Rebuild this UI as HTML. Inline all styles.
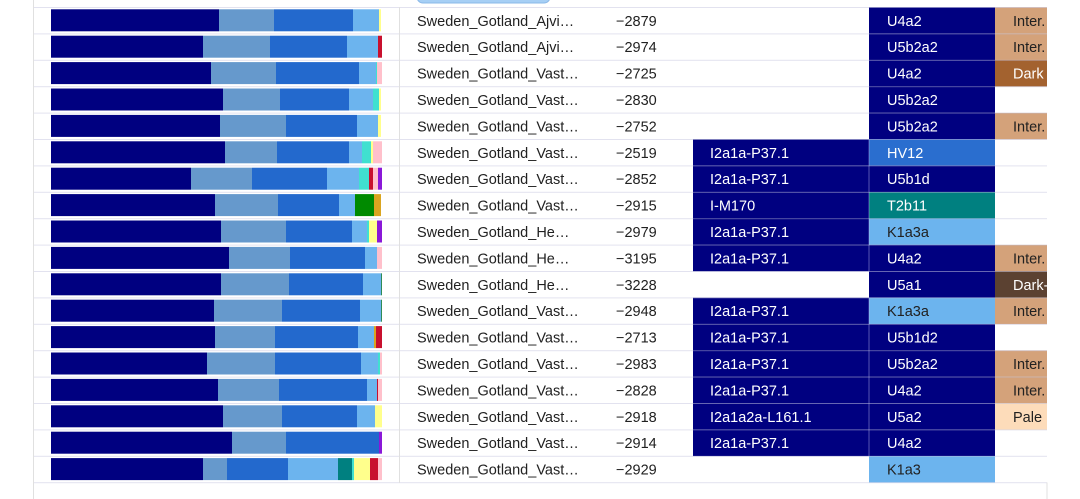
<!DOCTYPE html>
<html><head><meta charset="utf-8"><style>
html,body{margin:0;padding:0;background:#fff;width:1080px;height:499px;overflow:hidden}
svg{display:block}
text{font-family:"Liberation Sans",Arial,sans-serif;font-size:14.5px;fill:#212121}
.w{fill:#fff}
.n{fill:#000080}.s{fill:#6699cc}.m{fill:#2369cd}.l{fill:#6cb4ee}.y{fill:#ffff8c}.r{fill:#c8102e}
.pk{fill:#ffc0cb}.tq{fill:#40e0d0}.pu{fill:#8a18d8}.g{fill:#008a00}.o{fill:#daa520}.tl{fill:#008080}.sg{fill:#2e8b57}
.in{fill:#d4a27a}.dk{fill:#a3622f}.dd{fill:#5b4131}.pa{fill:#fddcba}.hv{fill:#2a6ecf}
</style></head><body>
<svg width="1080" height="499" viewBox="0 0 1080 499" xmlns="http://www.w3.org/2000/svg">
<defs><clipPath id="c"><rect x="0" y="0" width="1047" height="499"/></clipPath></defs>
<rect x="417" y="-10" width="133" height="13" rx="6" fill="#a6cff5" stroke="#8ab8e8"/>
<g clip-path="url(#c)">
<!-- R1 -->
<g transform="translate(0,7.3)">
<rect class="n" x="51" y="2" width="168" height="22"/><rect class="s" x="219" y="2" width="55" height="22"/><rect class="m" x="274" y="2" width="79" height="22"/><rect class="l" x="353" y="2" width="26" height="22"/><rect class="y" x="379" y="2" width="2" height="22"/>
<rect class="n" x="869" y="0" width="126" height="26.4"/><rect class="in" x="995" y="0" width="60" height="26.4"/>
<text x="417" y="18.5">Sweden_Gotland_Ajvi…</text><text x="616" y="18.5">−2879</text><text class="w" x="887" y="18.5">U4a2</text><text x="1013" y="18.5">Inter.</text>
</g>
<!-- R2 -->
<g transform="translate(0,33.7)">
<rect class="n" x="51" y="2" width="152" height="22"/><rect class="s" x="203" y="2" width="67" height="22"/><rect class="m" x="270" y="2" width="77" height="22"/><rect class="l" x="347" y="2" width="31" height="22"/><rect class="r" x="378" y="2" width="4" height="22"/>
<rect class="n" x="869" y="0" width="126" height="26.4"/><rect class="in" x="995" y="0" width="60" height="26.4"/>
<text x="417" y="18.5">Sweden_Gotland_Ajvi…</text><text x="616" y="18.5">−2974</text><text class="w" x="887" y="18.5">U5b2a2</text><text x="1013" y="18.5">Inter.</text>
</g>
<!-- R3 -->
<g transform="translate(0,60.1)">
<rect class="n" x="51" y="2" width="160" height="22"/><rect class="s" x="211" y="2" width="65" height="22"/><rect class="m" x="276" y="2" width="83" height="22"/><rect class="l" x="359" y="2" width="17" height="22"/><rect class="tq" x="376" y="2" width="1" height="22"/><rect class="pk" x="377" y="2" width="5" height="22"/>
<rect class="n" x="869" y="0" width="126" height="26.4"/><rect class="dk" x="995" y="0" width="60" height="26.4"/>
<text x="417" y="18.5">Sweden_Gotland_Vast…</text><text x="616" y="18.5">−2725</text><text class="w" x="887" y="18.5">U4a2</text><text class="w" x="1013" y="18.5">Dark</text>
</g>
<!-- R4 -->
<g transform="translate(0,86.5)">
<rect class="n" x="51" y="2" width="172" height="22"/><rect class="s" x="223" y="2" width="57" height="22"/><rect class="m" x="280" y="2" width="69" height="22"/><rect class="l" x="349" y="2" width="24" height="22"/><rect class="tq" x="373" y="2" width="6" height="22"/><rect class="y" x="379" y="2" width="2" height="22"/>
<rect class="n" x="869" y="0" width="126" height="26.4"/>
<text x="417" y="18.5">Sweden_Gotland_Vast…</text><text x="616" y="18.5">−2830</text><text class="w" x="887" y="18.5">U5b2a2</text>
</g>
<!-- R5 -->
<g transform="translate(0,112.9)">
<rect class="n" x="51" y="2" width="169" height="22"/><rect class="s" x="220" y="2" width="66" height="22"/><rect class="m" x="286" y="2" width="71" height="22"/><rect class="l" x="357" y="2" width="21" height="22"/><rect class="y" x="378" y="2" width="3" height="22"/>
<rect class="n" x="869" y="0" width="126" height="26.4"/><rect class="in" x="995" y="0" width="60" height="26.4"/>
<text x="417" y="18.5">Sweden_Gotland_Vast…</text><text x="616" y="18.5">−2752</text><text class="w" x="887" y="18.5">U5b2a2</text><text x="1013" y="18.5">Inter.</text>
</g>
<!-- R6 -->
<g transform="translate(0,139.3)">
<rect class="n" x="51" y="2" width="174" height="22"/><rect class="s" x="225" y="2" width="52" height="22"/><rect class="m" x="277" y="2" width="72" height="22"/><rect class="l" x="349" y="2" width="13" height="22"/><rect class="tq" x="362" y="2" width="9" height="22"/><rect class="y" x="371" y="2" width="2" height="22"/><rect class="pk" x="373" y="2" width="9" height="22"/>
<rect class="n" x="693" y="0" width="176" height="26.4"/><rect class="hv" x="869" y="0" width="126" height="26.4"/>
<text x="417" y="18.5">Sweden_Gotland_Vast…</text><text x="616" y="18.5">−2519</text><text class="w" x="710" y="18.5">I2a1a-P37.1</text><text class="w" x="887" y="18.5">HV12</text>
</g>
<!-- R7 -->
<g transform="translate(0,165.7)">
<rect class="n" x="51" y="2" width="140" height="22"/><rect class="s" x="191" y="2" width="61" height="22"/><rect class="m" x="252" y="2" width="75" height="22"/><rect class="l" x="327" y="2" width="32" height="22"/><rect class="tq" x="359" y="2" width="10" height="22"/><rect class="r" x="369" y="2" width="4" height="22"/><rect class="pk" x="373" y="2" width="5" height="22"/><rect class="pu" x="378" y="2" width="4" height="22"/>
<rect class="n" x="693" y="0" width="176" height="26.4"/><rect class="n" x="869" y="0" width="126" height="26.4"/>
<text x="417" y="18.5">Sweden_Gotland_Vast…</text><text x="616" y="18.5">−2852</text><text class="w" x="710" y="18.5">I2a1a-P37.1</text><text class="w" x="887" y="18.5">U5b1d</text>
</g>
<!-- R8 -->
<g transform="translate(0,192.1)">
<rect class="n" x="51" y="2" width="164" height="22"/><rect class="s" x="215" y="2" width="63" height="22"/><rect class="m" x="278" y="2" width="61" height="22"/><rect class="l" x="339" y="2" width="16" height="22"/><rect class="g" x="355" y="2" width="19" height="22"/><rect class="o" x="374" y="2" width="7" height="22"/>
<rect class="n" x="693" y="0" width="176" height="26.4"/><rect class="tl" x="869" y="0" width="126" height="26.4"/>
<text x="417" y="18.5">Sweden_Gotland_Vast…</text><text x="616" y="18.5">−2915</text><text class="w" x="710" y="18.5">I-M170</text><text class="w" x="887" y="18.5">T2b11</text>
</g>
<!-- R9 -->
<g transform="translate(0,218.5)">
<rect class="n" x="51" y="2" width="170" height="22"/><rect class="s" x="221" y="2" width="65" height="22"/><rect class="m" x="286" y="2" width="66" height="22"/><rect class="l" x="352" y="2" width="15" height="22"/><rect class="tq" x="367" y="2" width="2" height="22"/><rect class="y" x="369" y="2" width="8" height="22"/><rect class="pu" x="377" y="2" width="5" height="22"/>
<rect class="n" x="693" y="0" width="176" height="26.4"/><rect class="l" x="869" y="0" width="126" height="26.4"/>
<text x="417" y="18.5">Sweden_Gotland_He…</text><text x="616" y="18.5">−2979</text><text class="w" x="710" y="18.5">I2a1a-P37.1</text><text x="887" y="18.5">K1a3a</text>
</g>
<!-- R10 -->
<g transform="translate(0,244.9)">
<rect class="n" x="51" y="2" width="178" height="22"/><rect class="s" x="229" y="2" width="61" height="22"/><rect class="m" x="290" y="2" width="75" height="22"/><rect class="l" x="365" y="2" width="12" height="22"/><rect class="pk" x="377" y="2" width="5" height="22"/>
<rect class="n" x="693" y="0" width="176" height="26.4"/><rect class="n" x="869" y="0" width="126" height="26.4"/><rect class="in" x="995" y="0" width="60" height="26.4"/>
<text x="417" y="18.5">Sweden_Gotland_He…</text><text x="616" y="18.5">−3195</text><text class="w" x="710" y="18.5">I2a1a-P37.1</text><text class="w" x="887" y="18.5">U4a2</text><text x="1013" y="18.5">Inter.</text>
</g>
<!-- R11 -->
<g transform="translate(0,271.3)">
<rect class="n" x="51" y="2" width="170" height="22"/><rect class="s" x="221" y="2" width="68" height="22"/><rect class="m" x="289" y="2" width="74" height="22"/><rect class="l" x="363" y="2" width="18" height="22"/><rect class="sg" x="381" y="2" width="1" height="22"/>
<rect class="n" x="869" y="0" width="126" height="26.4"/><rect class="dd" x="995" y="0" width="60" height="26.4"/>
<text x="417" y="18.5">Sweden_Gotland_He…</text><text x="616" y="18.5">−3228</text><text class="w" x="887" y="18.5">U5a1</text><text class="w" x="1013" y="18.5">Dark-</text>
</g>
<!-- R12 -->
<g transform="translate(0,297.7)">
<rect class="n" x="51" y="2" width="163" height="22"/><rect class="s" x="214" y="2" width="68" height="22"/><rect class="m" x="282" y="2" width="78" height="22"/><rect class="l" x="360" y="2" width="21" height="22"/><rect class="sg" x="381" y="2" width="1" height="22"/>
<rect class="n" x="693" y="0" width="176" height="26.4"/><rect class="l" x="869" y="0" width="126" height="26.4"/><rect class="in" x="995" y="0" width="60" height="26.4"/>
<text x="417" y="18.5">Sweden_Gotland_Vast…</text><text x="616" y="18.5">−2948</text><text class="w" x="710" y="18.5">I2a1a-P37.1</text><text x="887" y="18.5">K1a3a</text><text x="1013" y="18.5">Inter.</text>
</g>
<!-- R13 -->
<g transform="translate(0,324.1)">
<rect class="n" x="51" y="2" width="164" height="22"/><rect class="s" x="215" y="2" width="60" height="22"/><rect class="m" x="275" y="2" width="83" height="22"/><rect class="l" x="358" y="2" width="16" height="22"/><rect class="o" x="374" y="2" width="2" height="22"/><rect class="r" x="376" y="2" width="6" height="22"/>
<rect class="n" x="693" y="0" width="176" height="26.4"/><rect class="n" x="869" y="0" width="126" height="26.4"/>
<text x="417" y="18.5">Sweden_Gotland_Vast…</text><text x="616" y="18.5">−2713</text><text class="w" x="710" y="18.5">I2a1a-P37.1</text><text class="w" x="887" y="18.5">U5b1d2</text>
</g>
<!-- R14 -->
<g transform="translate(0,350.5)">
<rect class="n" x="51" y="2" width="156" height="22"/><rect class="s" x="207" y="2" width="68" height="22"/><rect class="m" x="275" y="2" width="86" height="22"/><rect class="l" x="361" y="2" width="17" height="22"/><rect class="tq" x="378" y="2" width="2" height="22"/><rect class="pk" x="380" y="2" width="2" height="22"/>
<rect class="n" x="693" y="0" width="176" height="26.4"/><rect class="n" x="869" y="0" width="126" height="26.4"/><rect class="in" x="995" y="0" width="60" height="26.4"/>
<text x="417" y="18.5">Sweden_Gotland_Vast…</text><text x="616" y="18.5">−2983</text><text class="w" x="710" y="18.5">I2a1a-P37.1</text><text class="w" x="887" y="18.5">U5b2a2</text><text x="1013" y="18.5">Inter.</text>
</g>
<!-- R15 -->
<g transform="translate(0,376.9)">
<rect class="n" x="51" y="2" width="167" height="22"/><rect class="s" x="218" y="2" width="61" height="22"/><rect class="m" x="279" y="2" width="88" height="22"/><rect class="l" x="367" y="2" width="10" height="22"/><rect class="r" x="377" y="2" width="1" height="22"/><rect class="pk" x="378" y="2" width="4" height="22"/>
<rect class="n" x="693" y="0" width="176" height="26.4"/><rect class="n" x="869" y="0" width="126" height="26.4"/><rect class="in" x="995" y="0" width="60" height="26.4"/>
<text x="417" y="18.5">Sweden_Gotland_Vast…</text><text x="616" y="18.5">−2828</text><text class="w" x="710" y="18.5">I2a1a-P37.1</text><text class="w" x="887" y="18.5">U4a2</text><text x="1013" y="18.5">Inter.</text>
</g>
<!-- R16 -->
<g transform="translate(0,403.3)">
<rect class="n" x="51" y="2" width="172" height="22"/><rect class="s" x="223" y="2" width="59" height="22"/><rect class="m" x="282" y="2" width="75" height="22"/><rect class="l" x="357" y="2" width="18" height="22"/><rect class="y" x="375" y="2" width="7" height="22"/>
<rect class="n" x="693" y="0" width="176" height="26.4"/><rect class="n" x="869" y="0" width="126" height="26.4"/><rect class="pa" x="995" y="0" width="60" height="26.4"/>
<text x="417" y="18.5">Sweden_Gotland_Vast…</text><text x="616" y="18.5">−2918</text><text class="w" x="710" y="18.5">I2a1a2a-L161.1</text><text class="w" x="887" y="18.5">U5a2</text><text x="1013" y="18.5">Pale</text>
</g>
<!-- R17 -->
<g transform="translate(0,429.7)">
<rect class="n" x="51" y="2" width="181" height="22"/><rect class="s" x="232" y="2" width="54" height="22"/><rect class="m" x="286" y="2" width="93" height="22"/><rect class="pu" x="379" y="2" width="3" height="22"/>
<rect class="n" x="693" y="0" width="176" height="26.4"/><rect class="n" x="869" y="0" width="126" height="26.4"/>
<text x="417" y="18.5">Sweden_Gotland_Vast…</text><text x="616" y="18.5">−2914</text><text class="w" x="710" y="18.5">I2a1a-P37.1</text><text class="w" x="887" y="18.5">U4a2</text>
</g>
<!-- R18 -->
<g transform="translate(0,456.1)">
<rect class="n" x="51" y="2" width="152" height="22"/><rect class="s" x="203" y="2" width="24" height="22"/><rect class="m" x="227" y="2" width="61" height="22"/><rect class="l" x="288" y="2" width="50" height="22"/><rect class="tl" x="338" y="2" width="14" height="22"/><rect class="tq" x="352" y="2" width="2" height="22"/><rect class="y" x="354" y="2" width="16" height="22"/><rect class="r" x="370" y="2" width="8" height="22"/><rect class="pk" x="378" y="2" width="4" height="22"/>
<rect class="l" x="869" y="0" width="126" height="26.4"/>
<text x="417" y="18.5">Sweden_Gotland_Vast…</text><text x="616" y="18.5">−2929</text><text x="887" y="18.5">K1a3</text>
</g>
<!-- horizontal grid lines -->
<g fill="rgba(190,190,220,0.45)">
<rect x="33" y="7" width="1014" height="1"/>
<rect x="33" y="33.4" width="1014" height="1"/>
<rect x="33" y="59.8" width="1014" height="1"/>
<rect x="33" y="86.2" width="1014" height="1"/>
<rect x="33" y="112.6" width="1014" height="1"/>
<rect x="33" y="139" width="1014" height="1"/>
<rect x="33" y="165.4" width="1014" height="1"/>
<rect x="33" y="191.8" width="1014" height="1"/>
<rect x="33" y="218.2" width="1014" height="1"/>
<rect x="33" y="244.6" width="1014" height="1"/>
<rect x="33" y="271" width="1014" height="1"/>
<rect x="33" y="297.4" width="1014" height="1"/>
<rect x="33" y="323.8" width="1014" height="1"/>
<rect x="33" y="350.2" width="1014" height="1"/>
<rect x="33" y="376.6" width="1014" height="1"/>
<rect x="33" y="403" width="1014" height="1"/>
<rect x="33" y="429.4" width="1014" height="1"/>
<rect x="33" y="455.8" width="1014" height="1"/>
<rect x="33" y="482.2" width="1014" height="1"/>
</g>
<!-- lavender vertical separators between Y and mt cells -->
<g fill="rgba(190,190,240,0.45)">
<rect x="868.5" y="139.3" width="1" height="132"/>
<rect x="868.5" y="297.7" width="1" height="158.4"/>
</g>
</g>
<rect x="33" y="0" width="1" height="499" fill="#e0e0e0"/>
<rect x="399" y="7" width="1" height="476" fill="#e0e0e0"/>
<rect x="1046.5" y="482.5" width="1" height="17" fill="#e0e0e0"/>
</svg>
</body></html>
